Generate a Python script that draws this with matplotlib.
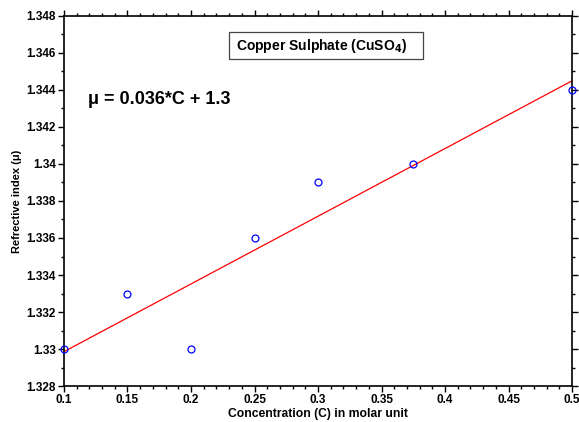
import numpy as np
import matplotlib
matplotlib.use("Agg")
import matplotlib.pyplot as plt
from matplotlib.ticker import MultipleLocator, FormatStrFormatter
from matplotlib.patches import Rectangle

plt.rcParams['font.family'] = ['Liberation Sans', 'DejaVu Sans']
plt.rcParams['font.weight'] = 'bold'

# data
conc = np.array([0.1, 0.15, 0.2, 0.25, 0.3, 0.375, 0.5])
mu = np.array([1.330, 1.333, 1.330, 1.336, 1.339, 1.340, 1.344])

# least squares line
slope, inter = np.polyfit(conc, mu, 1)
xfit = np.array([0.1, 0.5])
yfit = slope * xfit + inter

fig = plt.figure(figsize=(5.79, 4.22), dpi=100)
ax = fig.add_axes([0.1105, 0.0853, 0.8775, 0.8768])

ax.plot(xfit, yfit, color='red', linewidth=0.9)
ax.plot(conc, mu, 'o', markerfacecolor='none', markeredgecolor='blue',
        markersize=5, markeredgewidth=0.9, linestyle='none', clip_on=False, zorder=5)

ax.set_xlim(0.1, 0.5)
ax.set_ylim(1.328, 1.348)
ax.xaxis.set_major_locator(MultipleLocator(0.05))
ax.xaxis.set_minor_locator(MultipleLocator(0.01))
ax.yaxis.set_major_locator(MultipleLocator(0.002))
ax.yaxis.set_minor_locator(MultipleLocator(0.001))
ax.xaxis.set_major_formatter(FormatStrFormatter('%g'))
ax.yaxis.set_major_formatter(FormatStrFormatter('%g'))

ax.tick_params(which='both', direction='out', top=True, right=True,
               labeltop=False, labelright=False, width=1)
ax.tick_params(which='major', length=4, labelsize=8.5, pad=2)
ax.tick_params(which='minor', length=2)
for lab in ax.get_xticklabels() + ax.get_yticklabels():
    lab.set_fontweight('bold')
for sp in ax.spines.values():
    sp.set_linewidth(1.2)

ax.set_xlabel("Concentration (C) in molar unit", fontsize=8.7, fontweight='bold', labelpad=1)
ax.set_ylabel("Refrective index (\u03bc)", fontsize=8, fontweight='bold', labelpad=3)

ax.text(0.047, 0.773, "\u03bc = 0.036*C + 1.3", transform=ax.transAxes,
        fontsize=13, fontweight='bold', va='center', ha='left')

ax.add_patch(Rectangle((0.325, 0.884), 0.382, 0.073, transform=ax.transAxes,
                       facecolor='white', edgecolor='#444444', linewidth=0.9, zorder=4))
ax.text(0.339, 0.92, "Copper Sulphate (CuSO$_\\mathbf{4}$)", transform=ax.transAxes,
        fontsize=10, fontweight='bold', va='center', ha='left', zorder=6)

fig.savefig("out.png", dpi=100)
